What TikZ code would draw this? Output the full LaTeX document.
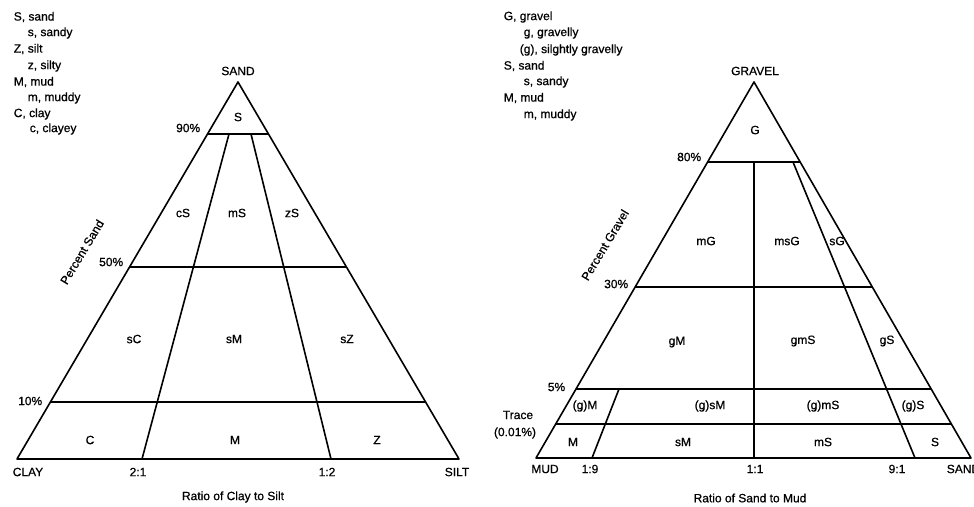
\documentclass[tikz,border=0pt]{standalone}
\usepackage{fontspec}
\setmainfont{Liberation Sans}[FakeBold=0.7]
\usetikzlibrary{calc}

\begin{document}
\begin{tikzpicture}[x=1pt,y=-1pt,line width=1.6pt,line join=round,
  lab/.style={font=\fontsize{12}{14}\selectfont,inner sep=1pt},
  leg/.style={lab,anchor=west},
  pct/.style={lab,anchor=east}]
\useasboundingbox (0,0) rectangle (974,506);
% clay - silt - sand
\coordinate (sand) at (238,82);
\coordinate (clay) at (17,459);
\coordinate (silt) at (459,459);
\coordinate (r21) at (142,459);
\coordinate (r12) at (331,459);
\draw (sand) -- (clay) -- (silt) -- cycle;
\draw ($(sand)!.138!(clay)$) coordinate (l90) -- ($(sand)!.138!(silt)$);
\draw ($(sand)!.491!(clay)$) coordinate (l50) -- ($(sand)!.491!(silt)$);
\draw ($(sand)!.849!(clay)$) coordinate (l10) -- ($(sand)!.849!(silt)$);
\draw (229,134) -- (r21);
\draw (251,134) -- (r12);
\node[leg] (kS) at (12,17) {S, sand};
\node[leg] (ks) at (26,33) {s, sandy};
\node[leg] (kZ) at (12,49) {Z, silt};
\node[leg] (kz) at (26,66) {z, silty};
\node[leg] (kM) at (12,82) {M, mud};
\node[leg] (km) at (26,98) {m, muddy};
\node[leg] (kC) at (12,114) {C, clay};
\node[leg] (kc) at (28,129) {c, clayey};
\node[lab] (nsand) at (238,71) {SAND};
\node[pct] (n90) at (202,128) {90\%};
\node[pct] (n50) at (125,262) {50\%};
\node[pct] (n10) at (44,401) {10\%};
\node[lab,rotate=59] (psand) at (82,252) {Percent Sand};
\node[lab] (tS) at (238,117) {S};
\node[lab] (tcS) at (183,213) {cS};
\node[lab] (tmS) at (237,213) {mS};
\node[lab] (tzS) at (292,213) {zS};
\node[lab] (tsC) at (134,339) {sC};
\node[lab] (tsM) at (234,339) {sM};
\node[lab] (tsZ) at (347,339) {sZ};
\node[lab] (tC) at (90,440) {C};
\node[lab] (tM) at (235,440) {M};
\node[lab] (tZ) at (377,440) {Z};
\node[lab] (nclay) at (28,472) {CLAY};
\node[lab] (n21) at (138,472) {2:1};
\node[lab] (n12) at (327,472) {1:2};
\node[lab] (nsilt) at (457,472) {SILT};
\node[lab] (rcs) at (233,497) {Ratio of Clay to Silt};
% mud - sand - gravel
\coordinate (gravel) at (754,82);
\coordinate (mud) at (536,458);
\coordinate (sandb) at (971,458);
\coordinate (r19) at (592,458);
\coordinate (r11) at (754,458);
\coordinate (r91) at (915,458);
\draw (gravel) -- (mud) -- (sandb) -- cycle;
\draw ($(gravel)!.213!(mud)$) coordinate (g80) -- ($(gravel)!.213!(sandb)$);
\draw ($(gravel)!.545!(mud)$) coordinate (g30) -- ($(gravel)!.545!(sandb)$);
\draw ($(gravel)!.816!(mud)$) coordinate (g5) -- ($(gravel)!.816!(sandb)$);
\draw ($(gravel)!.91!(mud)$) coordinate (gtr) -- ($(gravel)!.91!(sandb)$);
\draw (754,162) -- (r11);
\draw (793,162) -- (r91);
\draw (619,389) -- (r19);
\node[leg] (kG) at (502,17) {G, gravel};
\node[leg] (kg) at (522,33) {g, gravelly};
\node[leg] (kgg) at (518,50) {(g), silghtly gravelly};
\node[leg] (kS2) at (502,66) {S, sand};
\node[leg] (ks2) at (522,82) {s, sandy};
\node[leg] (kM2) at (502,98) {M, mud};
\node[leg] (km2) at (522,115) {m, muddy};
\node[lab] (ngravel) at (755,71) {GRAVEL};
\node[pct] (n80) at (703,157) {80\%};
\node[pct] (n30) at (630,284) {30\%};
\node[pct] (n5) at (567,387) {5\%};
\node[lab] (ntrace) at (518,415) {Trace};
\node[lab] (ntr2) at (515,433) {(0.01\%)};
\node[lab,rotate=59] (pgrav) at (605,245) {Percent Gravel};
\node[lab] (tG) at (755,130) {G};
\node[lab] (tmG) at (706,241) {mG};
\node[lab] (tmsG) at (787,241) {msG};
\node[lab] (tsG) at (837,241) {sG};
\node[lab] (tgM) at (677,342) {gM};
\node[lab] (tgmS) at (803,341) {gmS};
\node[lab] (tgS) at (887,341) {gS};
\node[lab] (tgM2) at (585,406) {(g)M};
\node[lab] (tgsM) at (710,406) {(g)sM};
\node[lab] (tgmS2) at (823,406) {(g)mS};
\node[lab] (tgS2) at (913,406) {(g)S};
\node[lab] (tM2) at (573,442) {M};
\node[lab] (tsM2) at (683,442) {sM};
\node[lab] (tmS2) at (823,442) {mS};
\node[lab] (tS2) at (935,442) {S};
\node[lab] (nmud) at (545,469) {MUD};
\node[lab] (n19) at (590,469) {1:9};
\node[lab] (n11) at (755,469) {1:1};
\node[lab] (n91) at (897,469) {9:1};
\node[leg] (nsandb) at (945,469) {SAND};
\node[lab] (rsm) at (750,498) {Ratio of Sand to Mud};
\end{tikzpicture}
\end{document}
